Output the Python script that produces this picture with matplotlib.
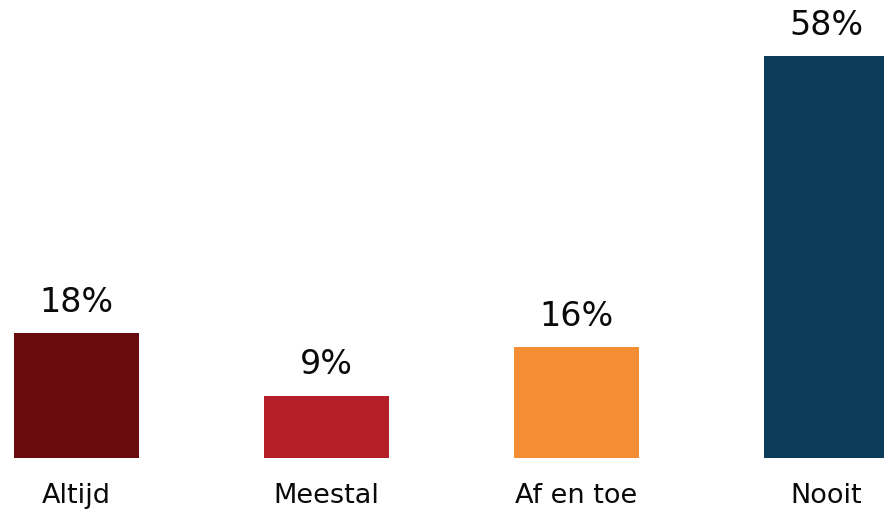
import matplotlib
matplotlib.use("Agg")
import matplotlib.pyplot as plt

categories = ["Altijd", "Meestal", "Af en toe", "Nooit"]
values = [18, 9, 16, 58]
value_labels = ["18%", "9%", "16%", "58%"]
colors = ["#690A0C", "#B52028", "#F48E35", "#0D3C5A"]

plt.rcParams['font.family'] = ['DejaVu Sans']

W, H = 884, 512
fig = plt.figure(figsize=(W / 100, H / 100), dpi=100)
bottom_px = 458
ax = fig.add_axes([0, (H - bottom_px) / H, 1, bottom_px / H])
px_per_unit = 6.93
ax.set_ylim(0, bottom_px / px_per_unit)
spacing = 250.0
c0 = 76.5
ax.set_xlim(-c0 / spacing, (W - c0) / spacing)

x = list(range(len(categories)))
bars = ax.bar(x, values, width=125 / spacing, color=colors)

for xi, v, lab in zip(x, values, value_labels):
    ax.annotate(lab, (xi, v), xytext=(0, 15.5), textcoords="offset points",
                ha="center", va="baseline", fontsize=24, color="#0a0a0a")
    ax.annotate(categories[xi], (xi, 0), xytext=(0, -32.5), textcoords="offset points",
                ha="center", va="baseline", fontsize=19.5, color="#0a0a0a",
                annotation_clip=False)

ax.axis("off")
fig.savefig("out.png", dpi=100)
